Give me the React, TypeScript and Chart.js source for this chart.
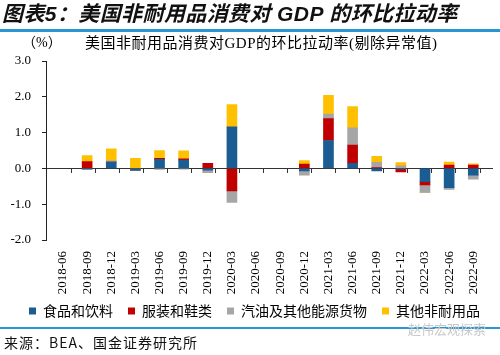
import React, { useEffect, useRef } from 'react';
import { Chart, registerables } from 'chart.js';

Chart.register(...registerables);

const categories = [
  '2018-06', '2018-09', '2018-12', '2019-03', '2019-06', '2019-09', '2019-12',
  '2020-03', '2020-06', '2020-09', '2020-12', '2021-03', '2021-06', '2021-09',
  '2021-12', '2022-03', '2022-06', '2022-09',
];

const foodBeverage = [null, -0.02, 0.18, -0.05, 0.25, 0.23, -0.05, 1.16, null, null, -0.07, 0.78, 0.14, -0.07, -0.02, -0.37, -0.54, -0.19];
const clothingShoes = [null, 0.19, 0.0, 0.0, 0.03, 0.04, 0.14, -0.63, null, null, 0.12, 0.61, 0.51, 0.02, -0.08, -0.09, 0.09, 0.09];
const gasolineEnergy = [null, 0.0, 0.03, 0.0, -0.03, -0.02, -0.07, -0.32, null, null, -0.12, 0.13, 0.48, 0.15, 0.07, -0.21, -0.05, -0.11];
const otherNondurables = [null, 0.17, 0.34, 0.28, 0.22, 0.22, 0.0, 0.62, null, null, 0.1, 0.52, 0.6, 0.17, 0.09, 0.0, 0.09, 0.04];

const seriesNames = ['食品和饮料', '服装和鞋类', '汽油及其他能源货物', '其他非耐用品'];
const seriesColors = ['#1B5C92', '#C00000', '#A6A6A6', '#FFC000'];

const yMin = -2;
const yMax = 3;

const serif = '"Liberation Serif", "Times New Roman", "Noto Sans CJK SC", serif';
const cjk = '"Noto Sans CJK SC", "Liberation Sans", sans-serif';

const legendShift = {
  id: 'legendShift',
  afterLayout(chart: any) {
    if (chart.legend) {
      chart.legend.left += 6;
      chart.legend.right += 6;
    }
  },
};

function App() {
  const canvasRef = useRef<HTMLCanvasElement | null>(null);

  useEffect(() => {
    document.body.style.margin = '0';
    const canvas = canvasRef.current;
    if (!canvas) return;
    const allSeries = [foodBeverage, clothingShoes, gasolineEnergy, otherNondurables];
    const xMin = -0.19;
    const xMax = categories.length - 1 + 0.29;
    const tickMarks = categories.slice(1).map((_, k) => k + 1 - 0.19);

    const chart = new Chart(canvas, {
      type: 'bar',
      data: {
        datasets: allSeries.map((s, si) => ({
          label: seriesNames[si],
          data: s.map((v, i) => ({ x: i, y: v })),
          backgroundColor: seriesColors[si],
          borderWidth: 0,
          barThickness: 10,
        })),
      },
      plugins: [legendShift],
      options: {
        responsive: false,
        animation: false,
        devicePixelRatio: 1,
        layout: { padding: { top: 61, left: 0, right: 3, bottom: 27 } },
        plugins: {
          tooltip: { enabled: false },
          title: { display: false },
          legend: {
            display: true,
            position: 'bottom',
            labels: {
              boxWidth: 7,
              boxHeight: 7,
              padding: 8,
              color: '#000',
              font: { family: cjk, size: 14 },
              generateLabels: (ch: any) => {
                const items = Chart.defaults.plugins.legend.labels.generateLabels(ch);
                return items.map((it: any, idx: number) => ({
                  ...it,
                  text: idx < items.length - 1 ? it.text + '\u2002' : it.text,
                }));
              },
            },
          },
        },
        scales: {
          x: {
            type: 'linear',
            stacked: true,
            min: xMin,
            max: xMax,
            afterBuildTicks: (scale: any) => {
              scale.ticks = categories.map((_, i) => ({ value: i }));
            },
            afterFit: (scale: any) => {
              scale.height = 56;
            },
            grid: { display: false, drawTicks: false },
            border: { display: false },
            ticks: {
              autoSkip: false,
              minRotation: 90,
              maxRotation: 90,
              padding: 11,
              color: '#000',
              font: { family: serif, size: 13 },
              callback: (value: any) => categories[Number(value)] ?? '',
            },
          },
          x2: {
            type: 'linear',
            axis: 'x',
            position: { y: 0 } as any,
            min: xMin,
            max: xMax,
            afterBuildTicks: (scale: any) => {
              scale.ticks = tickMarks.map((v) => ({ value: v }));
            },
            grid: { drawOnChartArea: false, drawTicks: true, tickLength: 4, color: '#333' },
            border: { display: true, color: '#333', width: 1 },
            ticks: { display: false },
          },
          y: {
            type: 'linear',
            stacked: true,
            min: yMin,
            max: yMax,
            afterFit: (scale: any) => {
              scale.width = 46;
            },
            grid: { drawOnChartArea: false, drawTicks: true, tickLength: 4, color: '#222' },
            border: { display: true, color: '#222', width: 1 },
            ticks: {
              stepSize: 1,
              padding: 11,
              color: '#000',
              font: { family: serif, size: 13 },
              callback: (v: any) => Number(v).toFixed(1),
            },
          },
        },
      } as any,
    });
    return () => chart.destroy();
  }, []);

  return (
    <div style={{ position: 'fixed', left: 0, top: 0, width: 500, height: 355, background: '#fff', overflow: 'hidden' }}>
      <canvas ref={canvasRef} width={500} height={355} style={{ position: 'absolute', left: 0, top: 0, width: 500, height: 355 }} />
      <div style={{ position: 'absolute', left: 2, top: 1, fontFamily: '"Liberation Sans", "Noto Sans CJK SC", sans-serif', fontSize: 21, fontWeight: 'bold', fontStyle: 'italic', letterSpacing: 0.4, color: '#111', whiteSpace: 'nowrap', lineHeight: '26px' }}>
        图表5：美国非耐用品消费对 GDP 的环比拉动率
      </div>
      <div style={{ position: 'absolute', left: 0, top: 29, width: 500, height: 3, background: '#2996D2' }} />
      <div style={{ position: 'absolute', left: 22, top: 34, fontFamily: serif, fontSize: 14, color: '#000', whiteSpace: 'nowrap', lineHeight: '18px' }}>
        （%）
      </div>
      <div style={{ position: 'absolute', left: 85, top: 34, fontFamily: serif, fontSize: 15, letterSpacing: 0.5, color: '#000', whiteSpace: 'nowrap', lineHeight: '18px' }}>
        美国非耐用品消费对GDP的环比拉动率(剔除异常值)
      </div>
      <div style={{ position: 'absolute', left: 0, top: 327, width: 500, height: 2, background: '#2996D2' }} />
      <div style={{ position: 'absolute', left: 4, top: 333, fontFamily: cjk, fontSize: 14, color: '#111', whiteSpace: 'nowrap', lineHeight: '18px', letterSpacing: 1 }}>
        来源：BEA、国金证券研究所
      </div>
      <div style={{ position: 'absolute', left: 408, top: 321, fontFamily: cjk, fontSize: 13, color: '#c8c8c8', whiteSpace: 'nowrap', lineHeight: '16px' }}>
        赵伟宏观探索
      </div>
    </div>
  );
}

export default App;
